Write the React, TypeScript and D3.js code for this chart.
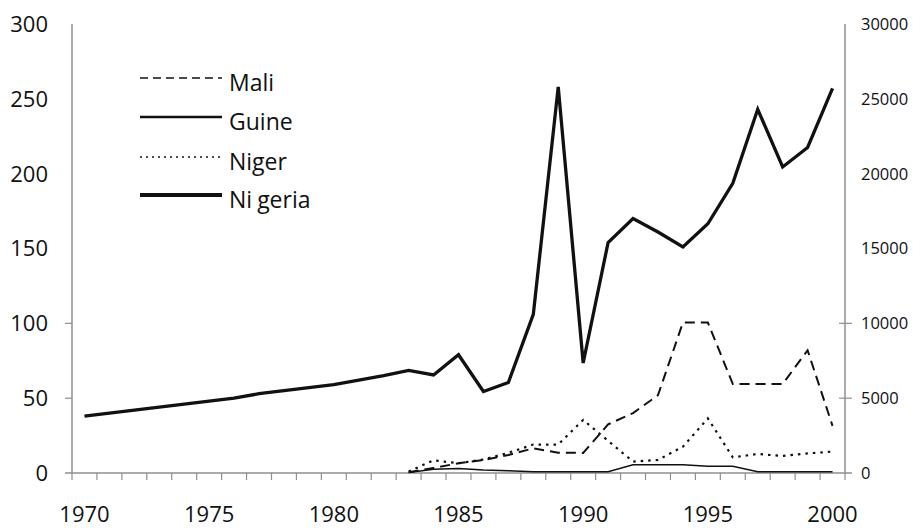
import React, { useEffect, useRef } from "react";
import * as d3 from "d3";

const years = d3.range(1970, 2001);
const xLabels = [1970, 1975, 1980, 1985, 1990, 1995, 2000];
const leftTicks = [0, 50, 100, 150, 200, 250, 300];
const rightTicks = [0, 5000, 10000, 15000, 20000, 25000, 30000];

// Nigeria is read on the right axis
const nigeria = [
  3800, 4000, 4200, 4400, 4600, 4800, 5000, 5300, 5500, 5700, 5900, 6200, 6500,
  6850, 6550, 7900, 5450, 6050, 10600, 25800, 7350, 15400, 17000, 16100, 15100,
  16650, 19350, 24300, 20450, 21750, 25700,
];
const N = null;
const mali = [
  N, N, N, N, N, N, N, N, N, N, N, N, N,
  0.5, 3.4, 6.5, 8.7, 12, 16.5, 13.6, 13.4, 32.5, 40, 52, 100.5, 100.5, 59.5,
  59.5, 59.5, 82, 31.5,
];
const guine = [
  N, N, N, N, N, N, N, N, N, N, N, N, N,
  0.3, 2.5, 3, 2, 1.5, 0.8, 0.8, 0.8, 0.8, 5.5, 5.5, 5.5, 4.5, 4.5, 0.8, 0.8,
  0.8, 0.8,
];
const niger = [
  N, N, N, N, N, N, N, N, N, N, N, N, N,
  1, 8.5, 6.5, 9, 13.5, 19, 19, 35.5, 21.5, 7.6, 8.7, 17.6, 36.5, 10.5, 12.7,
  11.4, 13.1, 14.3,
];

const App = () => {
  const ref = useRef(null);

  useEffect(() => {
    const width = 913;
    const height = 530;
    const left = 72;
    const right = 845;
    const top = 24;
    const bottom = 473;
    const font = "'Open Sans', sans-serif";
    const axisColor = "#8f8f8f";

    const svg = d3.select(ref.current);
    svg.selectAll("*").remove();
    svg.attr("width", width).attr("height", height);

    const x = d3.scaleBand().domain(years.map(String)).range([left, right]);
    const cx = (i) => x(String(years[i])) + x.bandwidth() / 2;
    const yL = d3.scaleLinear().domain([0, 300]).range([bottom, top]);
    const yR = d3.scaleLinear().domain([0, 30000]).range([bottom, top]);

    // axes lines
    const g = svg.append("g");
    g.append("line")
      .attr("x1", left).attr("x2", left).attr("y1", top).attr("y2", bottom)
      .attr("stroke", axisColor).attr("stroke-width", 1.5);
    g.append("line")
      .attr("x1", right).attr("x2", right).attr("y1", top).attr("y2", bottom)
      .attr("stroke", axisColor).attr("stroke-width", 1.5);
    g.append("line")
      .attr("x1", left - 7).attr("x2", right + 7).attr("y1", bottom).attr("y2", bottom)
      .attr("stroke", axisColor).attr("stroke-width", 1.5);

    // x ticks at band edges
    const edges = years.map((y) => x(String(y))).concat([right]);
    g.selectAll(".xt")
      .data(edges)
      .join("line")
      .attr("x1", (d) => d).attr("x2", (d) => d)
      .attr("y1", bottom).attr("y2", bottom + 7)
      .attr("stroke", axisColor).attr("stroke-width", 1.2);

    // only the lower ticks survive in the original
    g.selectAll(".lt")
      .data(leftTicks.slice(1, 3))
      .join("line")
      .attr("x1", left - 7).attr("x2", left)
      .attr("y1", (d) => yL(d)).attr("y2", (d) => yL(d))
      .attr("stroke", axisColor).attr("stroke-width", 1.2);
    g.selectAll(".rt")
      .data(rightTicks.slice(1, 3))
      .join("line")
      .attr("x1", right - 6).attr("x2", right + 7)
      .attr("y1", (d) => yR(d)).attr("y2", (d) => yR(d))
      .attr("stroke", axisColor).attr("stroke-width", 1.2);

    // labels
    g.selectAll(".ll")
      .data(leftTicks)
      .join("text")
      .attr("x", 48).attr("y", (d) => yL(d))
      .attr("dy", "0.36em")
      .attr("text-anchor", "end")
      .attr("font-family", font).attr("font-size", 22).attr("fill", "#111")
      .text((d) => d);
    g.selectAll(".rl")
      .data(rightTicks)
      .join("text")
      .attr("x", 861).attr("y", (d) => yR(d))
      .attr("dy", "0.36em")
      .attr("font-family", font).attr("font-size", 16.5).attr("fill", "#111")
      .text((d) => d);
    g.selectAll(".xl")
      .data(xLabels)
      .join("text")
      .attr("x", (d) => x(String(d)) + x.bandwidth() / 2)
      .attr("y", 522)
      .attr("text-anchor", "middle")
      .attr("font-family", font).attr("font-size", 22).attr("fill", "#111")
      .text((d) => d);

    // series
    const lineL = d3.line()
      .defined((d) => d != null)
      .x((d, i) => cx(i))
      .y((d) => yL(d));
    const lineR = d3.line()
      .x((d, i) => cx(i))
      .y((d) => yR(d));

    const series = [
      { data: guine, line: lineL, w: 1.6, dash: null },
      { data: niger, line: lineL, w: 2.2, dash: "2.5,5" },
      { data: mali, line: lineL, w: 2, dash: "10,6" },
      { data: nigeria, line: lineR, w: 3.3, dash: null },
    ];
    series.forEach((s) => {
      svg.append("path")
        .datum(s.data)
        .attr("d", s.line)
        .attr("fill", "none")
        .attr("stroke", "#111")
        .attr("stroke-width", s.w)
        .attr("stroke-linejoin", "miter")
        .attr("stroke-dasharray", s.dash);
    });

    // legend
    const legend = [
      { name: "Mali", w: 1.3, dash: "8,5", y: 78 },
      { name: "Guine", w: 2.7, dash: null, y: 117 },
      { name: "Niger", w: 1.6, dash: "2,4", y: 157 },
      { name: "Nigeria", w: 4, dash: null, y: 195 },
    ];
    const lg = svg.append("g");
    legend.forEach((l) => {
      lg.append("line")
        .attr("x1", 140).attr("x2", 222)
        .attr("y1", l.y).attr("y2", l.y)
        .attr("stroke", "#111")
        .attr("stroke-width", l.w)
        .attr("stroke-dasharray", l.dash);
      const t = lg.append("text")
        .attr("x", 229).attr("y", l.y + 12.5)
        .attr("font-family", font).attr("font-size", 23).attr("fill", "#111");
      if (l.name === "Nigeria") {
        t.append("tspan").text("Ni");
        t.append("tspan").attr("dx", 5).text("geria");
      } else {
        t.text(l.name);
      }
    });
  }, []);

  return (
    <div style={{ position: "absolute", left: 0, top: 0 }}>
      <svg ref={ref}></svg>
    </div>
  );
};

export default App;
